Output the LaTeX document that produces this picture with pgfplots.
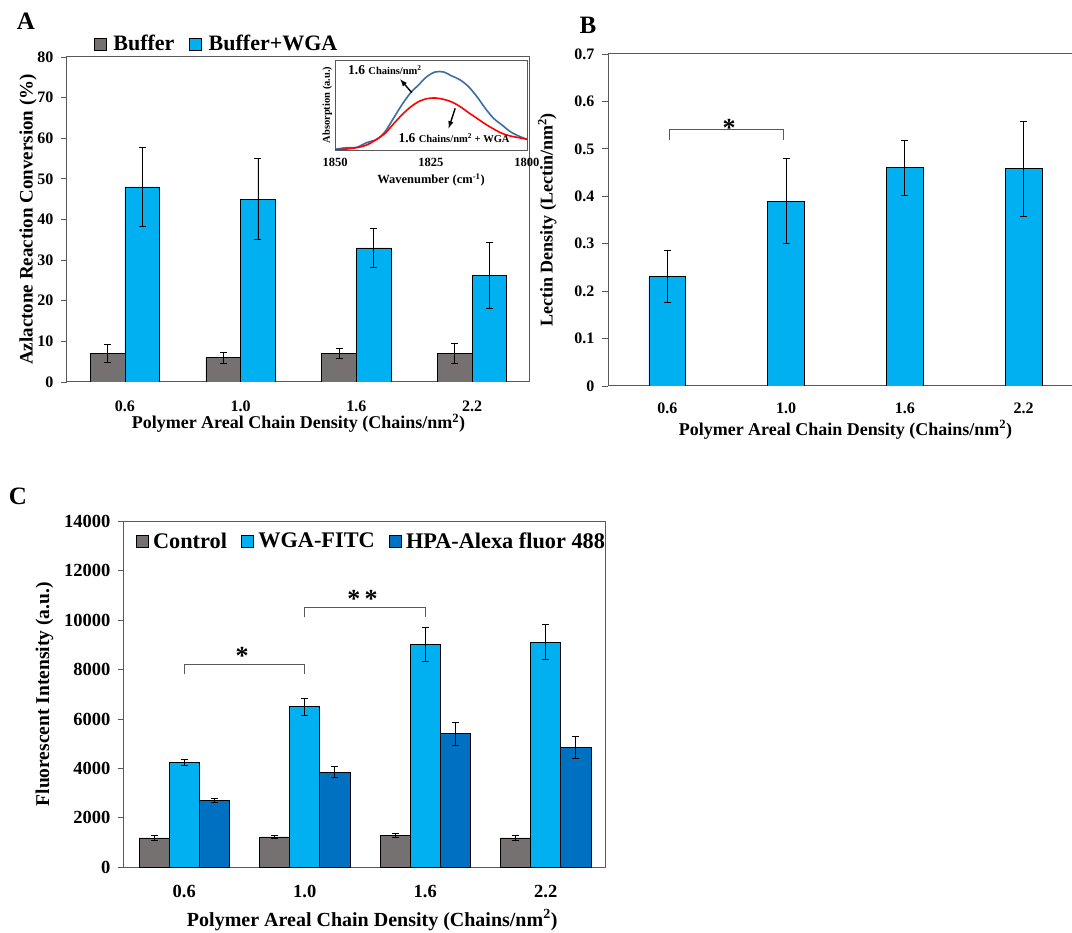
\documentclass[border=0pt]{standalone}
\usepackage{fontspec}
\setmainfont{Liberation Serif}
\usepackage{pgfplots}
\usepackage{pgfplotstable}
\pgfplotsset{compat=1.18}
\definecolor{cgray}{HTML}{767171}
\definecolor{clight}{HTML}{00B0F0}
\definecolor{cdark}{HTML}{0070C0}
\definecolor{cblue}{HTML}{3A6EA5}
\definecolor{axgray}{HTML}{595959}
\newcommand{\fs}[1]{\fontsize{#1}{#1}\selectfont\bfseries}

\pgfplotstableread{
x buf bufe wga wgae
0 7.0 2.3 48.0 9.7
1 6.0 1.4 45.0 10.0
2 7.0 1.3 33.0 4.7
3 7.0 2.4 26.3 8.1
}\tabA
\pgfplotstableread{
x y e
0 0.231 0.054
1 0.390 0.090
2 0.460 0.058
3 0.458 0.100
}\tabB
\pgfplotstableread{
x c ce w we h he
0 1190 100 4250 115 2710 80
1 1230 70 6500 340 3850 220
2 1300 90 9020 690 5410 460
3 1190 95 9120 710 4860 440
}\tabC
\pgfplotstableread{
wn blue red
1850.00 2 0
1846.96 7 3
1844.35 8 7
1841.74 22 15
1839.13 32 32
1836.96 55 50
1834.78 95 78
1832.61 135 105
1830.43 170 128
1828.26 195 145
1826.09 220 154
1823.91 234 156
1821.74 234 152
1819.57 222 144
1817.39 210 130
1815.22 190 112
1813.04 160 95
1810.87 125 78
1808.70 95 63
1806.52 75 50
1804.35 55 42
1802.17 42 37
1800.00 32 32
}\tabIn

\pgfplotsset{
  mybar/.style={
    scale only axis,
    /pgf/number format/assume math mode=true,
    axis line style={axgray, line width=1pt},
    ytick style={axgray, line width=0.8pt},
    xtick style={draw=none},
    ytick pos=left,
    tick align=outside,
    major tick length=6pt,
    xmin=-0.5, xmax=3.5,
    xtick={0,1,2,3},
    xticklabels={0.6,1.0,1.6,2.2},
    ymin=0,
    legend cell align=left,
    yticklabel style={xshift=-4pt},
  },
  lg/.style={legend image code/.code={\draw[##1,draw=black,line width=0.6pt] (0pt,-6pt) rectangle (12pt,6pt); \path[draw=none,fill=none] (0pt,0pt) rectangle (#1,0.1pt);}},
  errb/.style={error bars/.cd, y dir=both, y explicit,
    error bar style={black, line width=0.8pt},
    error mark options={rotate=90, mark size=3.5pt, black, line width=0.8pt}},
  barst/.style={draw=black, line width=0.7pt, lg=#1},
  barst/.default=17pt,
}

\begin{document}
\begin{tikzpicture}
\useasboundingbox (0,0) rectangle (1072pt,933pt);

% ---------------- Panel A ----------------
\node[font=\fs{25}] at (26pt,912pt) {A};
\begin{axis}[mybar,
  at={(67pt,551pt)}, anchor=south west,
  width=463pt, height=325pt,
  ymax=80, ytick={0,10,...,80},
  ybar=0pt, bar width=0.3,
  tick label style={font=\fs{16}},
  xticklabel style={anchor=center, yshift=-18pt},
  every axis y label/.style={at={(axis description cs:-0.084,0.5)}, rotate=90, anchor=center, font=\fs{19}},
  every axis x label/.style={at={(axis description cs:0.5,-0.126)}, anchor=center, font=\fs{18}},
  ylabel={Azlactone Reaction Conversion (\%)},
  xlabel={Polymer Areal Chain Density (Chains/nm\textsuperscript{2})},
  legend style={at={(0.058,1.04)}, anchor=west, draw=none, fill=none, legend columns=-1,
    font=\fs{22}, inner sep=0pt,
    /tikz/every even column/.append style={column sep=13pt}},
]
\addplot[barst, fill=cgray, errb] table[x=x, y=buf, y error=bufe] {\tabA};
\addplot[barst, fill=clight, errb] table[x=x, y=wga, y error=wgae] {\tabA};
\legend{Buffer, Buffer+WGA}
\end{axis}

% inset
\begin{axis}[
  scale only axis,
  at={(335pt,783pt)}, anchor=south west,
  width=192pt, height=90pt,
  axis background/.style={fill=white},
  axis line style={axgray, line width=0.9pt},
  x dir=reverse,
  xmin=1800, xmax=1850, ymin=0, ymax=270,
  xtick={1800,1825,1850}, ytick=\empty,
  xtick style={draw=none},
  /pgf/number format/assume math mode=true,
  /pgf/number format/1000 sep={},
  tick label style={font=\fs{12.5}},
  xticklabel style={anchor=center, yshift=-12pt},
  every axis x label/.style={at={(axis description cs:0.5,-0.33)}, anchor=center, font=\fs{12.5}},
  every axis y label/.style={at={(axis description cs:-0.04,0.5)}, rotate=90, anchor=center, font=\fs{10.5}},
  xlabel={Wavenumber (cm\textsuperscript{-1})},
  ylabel={Absorption (a.u.)},
]
\addplot[cblue, line width=1.6pt, smooth] table[x=wn, y=blue] {\tabIn};
\addplot[red, line width=1.6pt, smooth] table[x=wn, y=red] {\tabIn};
\draw[-latex, black, line width=1.4pt] (axis cs:1830.0,172) -- (axis cs:1833.0,212);
\draw[-latex, black, line width=1.4pt] (axis cs:1818.7,125) -- (axis cs:1820.4,65);
\node[font=\fs{13.5}] at (axis cs:1837,240) {1.6 {\fs{10.5}Chains/nm\textsuperscript{2}}};
\node[font=\fs{13.5}] at (axis cs:1819,35) {1.6 {\fs{10.5}Chains/nm\textsuperscript{2} + WGA}};
\end{axis}

% ---------------- Panel B ----------------
\node[font=\fs{25}] at (588pt,908pt) {B};
\begin{axis}[mybar,
  at={(608pt,547pt)}, anchor=south west,
  width=475pt, height=332pt,
  ymax=0.7, ytick={0,0.1,...,0.7},
  yticklabel style={/pgf/number format/fixed, /pgf/number format/precision=1},
  ybar=0pt, bar width=0.31,
  tick label style={font=\fs{16}},
  xticklabel style={anchor=center, yshift=-16pt},
  every axis y label/.style={at={(axis description cs:-0.128,0.5)}, rotate=90, anchor=center, font=\fs{18}},
  every axis x label/.style={at={(axis description cs:0.5,-0.132)}, anchor=center, font=\fs{18}},
  ylabel={Lectin Density (Lectin/nm\textsuperscript{2})},
  xlabel={Polymer Areal Chain Density (Chains/nm\textsuperscript{2})},
]
\addplot[barst, fill=clight, errb] table[x=x, y=y, y error=e] {\tabB};
\draw[axgray, line width=1pt] (axis cs:0.02,0.518) -- (axis cs:0.02,0.541) -- (axis cs:0.98,0.541) -- (axis cs:0.98,0.518);
\node[font=\fs{26}, anchor=base] at (axis cs:0.52,0.525) {*};
\end{axis}

% ---------------- Panel C ----------------
\node[font=\fs{25}] at (18pt,437pt) {C};
\begin{axis}[mybar,
  at={(124pt,65.7pt)}, anchor=south west,
  width=482pt, height=345.8pt,
  ymax=14000, ytick={0,2000,...,14000},
  scaled y ticks=false,
  yticklabel style={/pgf/number format/fixed, /pgf/number format/1000 sep={}},
  ybar=0pt, bar width=0.25,
  tick label style={font=\fs{18.5}},
  xticklabel style={anchor=center, yshift=-18pt},
  every axis y label/.style={at={(axis description cs:-0.165,0.5)}, rotate=90, anchor=center, font=\fs{19.5}},
  every axis x label/.style={at={(axis description cs:0.515,-0.152)}, anchor=center, font=\fs{20}},
  ylabel={Fluorescent Intensity (a.u.)},
  xlabel={Polymer Areal Chain Density (Chains/nm\textsuperscript{2})},
  legend style={at={(0.024,0.943)}, anchor=west, draw=none, fill=none, legend columns=-1,
    font=\fs{22.3}, inner sep=0pt,
    /tikz/every even column/.append style={column sep=12pt}},
]
\addplot[barst=15pt, fill=cgray, errb] table[x=x, y=c, y error=ce] {\tabC};
\addplot[barst=15pt, fill=clight, errb] table[x=x, y=w, y error=we] {\tabC};
\addplot[barst=15pt, fill=cdark, errb] table[x=x, y=h, y error=he] {\tabC};
\legend{Control, WGA-FITC, HPA-Alexa fluor 488}
\draw[axgray, line width=1pt] (axis cs:0,7814) -- (axis cs:0,8219) -- (axis cs:1,8219) -- (axis cs:1,7814);
\draw[axgray, line width=1pt] (axis cs:1,10121) -- (axis cs:1,10526) -- (axis cs:2,10526) -- (axis cs:2,10121);
\node[font=\fs{26}, anchor=base] at (axis cs:0.48,8200) {*};
\node[font=\fs{26}, anchor=base] at (axis cs:1.48,10530) {*\,*};
\end{axis}
\end{tikzpicture}
\end{document}
